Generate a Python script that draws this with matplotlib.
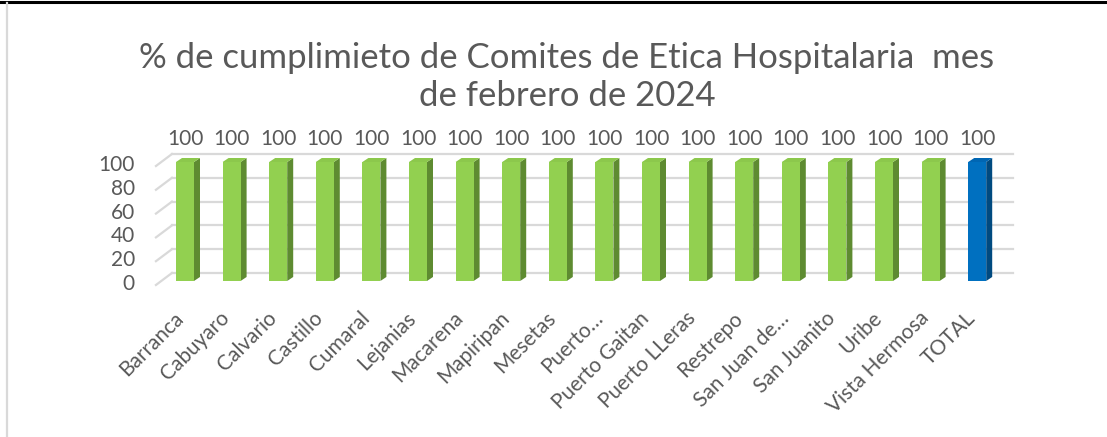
import matplotlib.pyplot as plt
import numpy as np
from matplotlib.patches import Polygon
from matplotlib.lines import Line2D

# datos
municipios = ['Barranca', 'Cabuyaro', 'Calvario', 'Castillo', 'Cumaral', 'Lejanias',
              'Macarena', 'Mapiripan', 'Mesetas', 'Puerto…', 'Puerto Gaitan',
              'Puerto LLeras', 'Restrepo', 'San Juan de…', 'San Juanito', 'Uribe',
              'Vista Hermosa', 'TOTAL']
cumplimiento = [100, 100, 100, 100, 100, 100, 100, 100, 100, 100, 100, 100,
                100, 100, 100, 100, 100, 100]
y_ticks = [0, 20, 40, 60, 80, 100]
titulo = '% de cumplimieto de Comites de Etica Hospitalaria  mes\nde febrero de 2024'

plt.rcParams['font.family'] = ['Lato', 'DejaVu Sans']
gris = '#595959'

W, H = 1107, 437
fig = plt.figure(figsize=(W / 100, H / 100), dpi=100)

# axes placed in pixels
ax_l, ax_r, ax_t, ax_b = 140, 1030, 150.1, 290.5
ax = fig.add_axes([ax_l / W, 1 - ax_b / H, (ax_r - ax_l) / W, (ax_b - ax_t) / H])
n = len(municipios)
x = np.arange(n)
xlim = ((ax_l - 185) / 46.6, (ax_r - 185) / 46.6)
ylim = (-8, 110)
ax.set_xlim(*xlim)
ax.set_ylim(*ylim)
ax.axis('off')

# pixel -> data scale
sx = (xlim[1] - xlim[0]) / (ax_r - ax_l)
sy = (ylim[1] - ylim[0]) / (ax_b - ax_t)

# back wall gridlines + diagonals
gx0, gx1 = -0.28, n - 0.23
for t in y_ticks:
    yb = t + 8 * sy
    ax.add_line(Line2D([gx0, gx1], [yb, yb], color='#d9d9d9', lw=1.6, zorder=1, clip_on=False))
    ax.add_line(Line2D([gx0 - 16 * sx, gx0], [t - 4 * sy, yb], color='#d9d9d9', lw=1.6,
                       zorder=1, clip_on=False))
    ax.text(gx0 - 37 * sx, t - 3 * sy, str(t), ha='right', va='center', fontsize=15,
            color=gris)

# bars with a fake 3d look
w = 18 * sx
ddx, ddy = 6 * sx, 4 * sy
colores = [('#92d050', '#8cc84c', '#5e8b31')] * (n - 1) + [('#0070c0', '#0066b3', '#004a80')]
for xi, v, (c_front, c_top, c_side) in zip(x, cumplimiento, colores):
    ax.bar(xi, v, width=w, color=c_front, zorder=3)
    side = [(xi + w / 2, 0), (xi + w / 2 + ddx, ddy), (xi + w / 2 + ddx, v + ddy), (xi + w / 2, v)]
    top = [(xi - w / 2, v), (xi + w / 2, v), (xi + w / 2 + ddx, v + ddy), (xi - w / 2 + ddx, v + ddy)]
    ax.add_patch(Polygon(side, closed=True, color=c_side, zorder=2.5, lw=0))
    ax.add_patch(Polygon(top, closed=True, color=c_top, zorder=3.5, lw=0))
    ax.annotate(str(v), (xi, v), xytext=(0, 23), textcoords='offset pixels',
                ha='center', va='center', fontsize=15, color=gris)

# category labels
for xi, nombre in zip(x, municipios):
    ax.annotate(nombre, (xi, 0), xytext=(-12, -27), textcoords='offset pixels',
                rotation=45, rotation_mode='anchor', ha='right', va='top',
                fontsize=15, color=gris)

fig.text(567 / W, 1 - 77 / H, titulo, ha='center', va='center', fontsize=25,
         color=gris, linespacing=1.22)

# chart borders
fig.add_artist(Line2D([0, 1], [1 - 1.5 / H, 1 - 1.5 / H], color='black', lw=2.2))
fig.add_artist(Line2D([7 / W, 7 / W], [0, 1 - 3 / H], color='#d9d9d9', lw=1.6))

fig.savefig('out.png', dpi=100)
